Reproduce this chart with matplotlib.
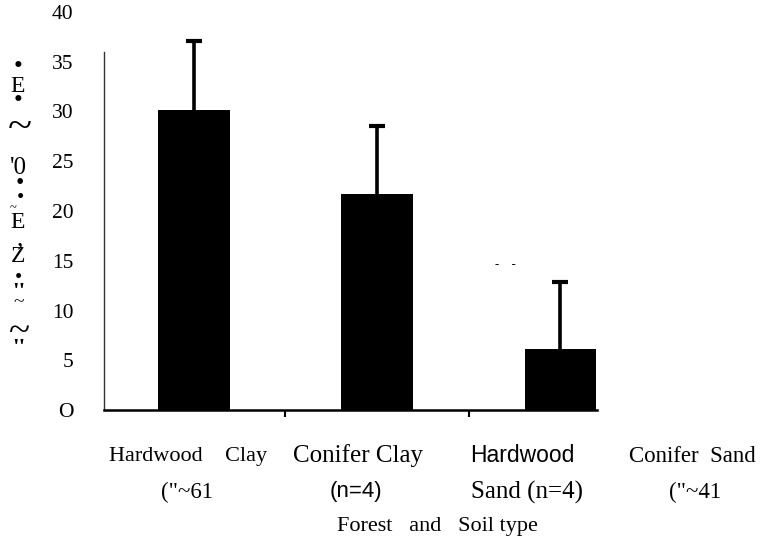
import numpy as np
import matplotlib
matplotlib.use("Agg")
import matplotlib.pyplot as plt

# ---- data ----
categories_line1 = ["Hardwood    Clay", "Conifer Clay", "Hardwood", "Conifer  Sand"]
categories_line2 = ["(\"~61", "(n=4)", "Sand (n=4)", "(\"~41"]
means = [30.2, 21.7, 6.1, np.nan]
errors = [6.9, 6.8, 6.8, np.nan]
ytick_values = [0, 5, 10, 15, 20, 25, 30, 35, 40]
ytick_labels = ["O", "5", "10", "15", "20", "25", "30", "35", "40"]
xlabel = "Forest   and   Soil type"

SERIF = "Liberation Serif"
SANS = "Liberation Sans"

W, H = 760, 544
fig = plt.figure(figsize=(W / 100, H / 100), dpi=100)
ax_left, ax_right, ax_bottom, ax_top = 104, 597, 410, 12
ax = fig.add_axes([ax_left / W, 1 - ax_bottom / H,
                   (ax_right - ax_left) / W, (ax_bottom - ax_top) / H])

x = np.arange(len(means))
ax.bar(x, means, width=0.39, color="black", zorder=2)
eb = ax.errorbar(x, means, yerr=[np.zeros(len(errors)), errors], fmt="none",
                 ecolor="black", elinewidth=2.6, capsize=6, capthick=3, zorder=3)
# only the upper cap is shown in the reference
eb[1][0].set_visible(False)

ax.set_xlim(-0.49, 2.20)
ax.set_ylim(0, 40)

for s in ["top", "right"]:
    ax.spines[s].set_visible(False)
ax.spines["bottom"].set_linewidth(1.8)
ax.spines["left"].set_linewidth(1.0)
ax.spines["left"].set_color("#333333")
ax.spines["left"].set_bounds(0, 36)

ax.set_xticks([0.5, 1.5])
ax.set_xticklabels([])
ax.tick_params(axis="x", length=5, width=1.5, direction="out")
ax.set_yticks(ytick_values)
ax.set_yticklabels(ytick_labels, fontfamily=SERIF, fontsize=15.5)
ax.tick_params(axis="y", length=0, pad=22)

# category labels (two lines, mixed fonts/sizes as in the scan)
label_fonts1 = [SERIF, SERIF, SANS, SERIF]
label_fonts2 = [SERIF, SANS, SERIF, SERIF]
label_sizes1 = [16, 18, 16.5, 16.5]
label_sizes2 = [16.5, 16, 18, 16.5]
label_cx1 = [188, 358, 522, 692]
label_cx2 = [187, 356, 527, 695]
for i in range(len(categories_line1)):
    fig.text(label_cx1[i] / W, 1 - 456 / H, categories_line1[i],
             ha="center", va="center", fontsize=label_sizes1[i],
             fontfamily=label_fonts1[i])
    fig.text(label_cx2[i] / W, 1 - 492 / H, categories_line2[i],
             ha="center", va="center", fontsize=label_sizes2[i],
             fontfamily=label_fonts2[i])

fig.text(437 / W, 1 - 526 / H, xlabel, ha="center", va="center",
         fontsize=16, fontfamily=SERIF)

# garbled (OCR) y-axis label, stacked glyphs
ylabel_glyphs = [
    ("•", 18, 67, 18), ("E", 18, 86, 17), ("•", 18, 101, 18),
    ("~", 20, 128, 32), ("'0", 18, 168, 18), ("•", 20, 183, 17),
    ("•", 20, 198, 15), ("~", 13, 208, 9), ("E", 18, 223, 17),
    (",", 20, 239, 18), ("Z", 18, 257, 17), ("•", 19, 279, 15),
    ("''", 19, 292, 17), ("~", 19, 303, 14), ("~", 19, 333, 28),
    ("''", 19, 349, 17),
]
for ch, gx, gy, fs in ylabel_glyphs:
    fig.text(gx / W, 1 - gy / H, ch, ha="center", va="center",
             fontsize=fs, fontfamily=SERIF,
             fontweight="bold" if ch == "''" else "normal")

# scan speckles near Hardwood Sand
fig.text(505 / W, 1 - 265 / H, "-    -", ha="center", va="center",
         fontsize=9, fontfamily=SERIF)

fig.savefig("out.png", dpi=100)
